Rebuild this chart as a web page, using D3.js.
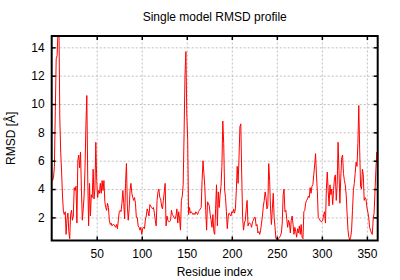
<!DOCTYPE html>
<html>
<head>
<meta charset="utf-8">
<script src="https://cdn.jsdelivr.net/npm/d3@7"></script>
<style>
  body { margin: 0; background: #fff; }
  svg { font-family: "Liberation Sans", Arial, sans-serif; }
</style>
</head>
<body>
<svg id="chart"></svg>
<script>
// RMSD per residue, residue index = position + 1
const rmsd = [
  4.6, 4.8, 5.6, 9.5, 13.2, 13.4, 15.2, 15.8, 9.0, 6.6,
  5.2, 3.5, 2.4, 2.2, 2.4, 0.8, 1.9, 2.3, 1.0, 0.5,
  2.2, 2.5, 1.8, 2.1, 4.1, 3.9, 4.2, 1.6, 6.0, 6.4,
  5.5, 6.6, 4.0, 1.8, 2.6, 3.5, 5.5, 8.5, 10.6, 4.8,
  1.4, 4.4, 2.1, 3.6, 3.4, 5.4, 3.3, 4.0, 7.3, 4.6,
  3.4, 3.9, 3.7, 4.4, 3.7, 4.6, 3.9, 4.6, 3.1, 2.7,
  2.5, 3.0, 2.7, 1.8, 1.5, 1.6, 1.4, 1.5, 1.5, 1.4,
  1.3, 1.5, 1.2, 1.8, 2.4, 2.5, 2.4, 3.0, 3.9, 3.0,
  1.9, 4.4, 5.8, 2.8, 1.8, 2.6, 3.9, 4.4, 3.7, 3.4,
  3.2, 3.4, 3.0, 2.0, 2.0, 1.4, 1.3, 1.1, 1.3, 0.8,
  1.2, 1.3, 1.2, 1.8, 2.1, 2.6, 2.4, 2.1, 2.9, 2.8,
  2.7, 2.6, 2.7, 2.3, 1.8, 1.4, 3.2, 3.8, 4.0, 3.4,
  3.3, 2.8, 2.6, 3.2, 3.8, 4.4, 1.4, 2.1, 1.8, 1.7,
  1.7, 1.8, 2.5, 2.2, 2.1, 2.0, 1.9, 2.1, 2.6, 1.6,
  2.4, 1.9, 1.1, 3.2, 3.5, 4.3, 7.9, 12.0, 13.7, 9.3,
  7.5, 2.2, 2.7, 2.3, 2.4, 2.3, 2.2, 2.3, 2.2, 2.4,
  2.3, 2.2, 2.4, 2.5, 2.6, 2.7, 4.6, 6.0, 5.1, 4.2,
  2.5, 1.1, 3.1, 3.0, 2.8, 2.2, 1.8, 1.3, 2.2, 1.0,
  0.8, 2.6, 4.3, 1.4, 3.8, 2.7, 3.6, 4.2, 5.6, 8.8,
  7.2, 4.0, 3.4, 2.4, 1.2, 2.1, 2.3, 2.2, 2.1, 2.4,
  2.3, 2.6, 2.3, 2.6, 3.9, 5.6, 4.4, 6.2, 8.4, 8.6,
  5.0, 2.0, 1.1, 1.6, 1.8, 2.6, 3.2, 1.4, 1.6, 1.6,
  1.5, 1.3, 1.7, 1.8, 2.0, 2.0, 1.4, 1.5, 0.9, 1.0,
  0.8, 1.1, 1.6, 2.1, 2.8, 3.2, 3.8, 3.4, 2.6, 2.8,
  5.8, 4.6, 2.6, 1.5, 2.6, 3.7, 2.0, 1.3, 0.5, 0.5,
  0.4, 0.5, 0.6, 0.7, 0.9, 1.6, 3.6, 4.0, 2.4, 2.5,
  1.9, 1.3, 1.8, 1.6, 0.9, 1.8, 2.1, 1.5, 0.8, 1.3,
  1.0, 0.6, 1.2, 0.9, 1.4, 0.8, 1.5, 0.6, 0.5, 2.4,
  2.5, 3.0, 3.2, 3.3, 3.5, 3.4, 4.1, 3.7, 4.2, 4.3,
  5.0, 5.7, 6.5, 5.0, 3.8, 2.0, 1.9, 1.8, 1.7, 1.7,
  1.8, 2.2, 2.4, 1.6, 4.0, 5.2, 3.9, 2.8, 4.3, 3.6,
  4.0, 2.9, 3.9, 4.8, 5.0, 3.2, 4.3, 7.3, 5.3, 3.0,
  4.8, 6.2, 6.4, 5.1, 4.6, 4.3, 3.6, 2.3, 1.1, 0.6,
  0.4, 0.6, 1.1, 2.5, 3.9, 4.4, 5.1, 5.9, 5.6, 7.2,
  9.9, 6.7, 4.2, 4.0, 5.4, 5.0, 3.2, 3.4, 3.3, 2.7,
  2.4, 2.0, 1.3, 1.1, 0.9, 0.8, 1.9, 2.3, 3.8, 5.4,
  6.6, 6.3
];

const xTicks = [50, 100, 150, 200, 250, 300, 350];
const yTicks = [2, 4, 6, 8, 10, 12, 14];
const xDomain = [0, 362];
const yDomain = [0.37, 14.8];

const width = 400;
const height = 280;
const margin = { top: 36, right: 22.3, bottom: 39.5, left: 51.7 };

const svg = d3.select("#chart")
    .attr("width", width)
    .attr("height", height);

const x = d3.scaleLinear()
    .domain(xDomain)
    .range([margin.left, width - margin.right]);

const y = d3.scaleLinear()
    .domain(yDomain)
    .range([height - margin.bottom, margin.top]);

const plotW = width - margin.left - margin.right;
const plotH = height - margin.top - margin.bottom;

// grid
const gridX = svg.append("g")
    .attr("transform", `translate(0,${height - margin.bottom})`)
    .call(d3.axisBottom(x).tickValues(xTicks).tickSize(-plotH).tickFormat(""));
const gridY = svg.append("g")
    .attr("transform", `translate(${margin.left},0)`)
    .call(d3.axisLeft(y).tickValues(yTicks).tickSize(-plotW).tickFormat(""));
[gridX, gridY].forEach(g => {
    g.select(".domain").remove();
    g.selectAll("line")
        .attr("stroke", "#b0b0b0")
        .attr("stroke-width", 0.8)
        .attr("stroke-dasharray", "2,2");
});

// line
svg.append("clipPath").attr("id", "clip")
    .append("rect")
    .attr("x", margin.left).attr("y", margin.top)
    .attr("width", plotW).attr("height", plotH);

const line = d3.line()
    .x((d, i) => x(i + 1))
    .y(d => y(d));

svg.append("path")
    .datum(rmsd)
    .attr("clip-path", "url(#clip)")
    .attr("fill", "none")
    .attr("stroke", "#ff0000")
    .attr("stroke-width", 1)
    .attr("stroke-linejoin", "round")
    .attr("d", line);

// axes with inward ticks (mirrored)
const axB = svg.append("g")
    .attr("transform", `translate(0,${height - margin.bottom})`)
    .call(d3.axisBottom(x).tickValues(xTicks).tickSize(-4).tickPadding(9));
const axT = svg.append("g")
    .attr("transform", `translate(0,${margin.top})`)
    .call(d3.axisTop(x).tickValues(xTicks).tickSize(-4).tickFormat(""));
const axL = svg.append("g")
    .attr("transform", `translate(${margin.left},0)`)
    .call(d3.axisLeft(y).tickValues(yTicks).tickSize(-4).tickPadding(7));
const axR = svg.append("g")
    .attr("transform", `translate(${width - margin.right},0)`)
    .call(d3.axisRight(y).tickValues(yTicks).tickSize(-4).tickFormat(""));
[axB, axT, axL, axR].forEach(g => {
    g.select(".domain").remove();
    g.selectAll("line").attr("stroke", "#000").attr("stroke-width", 1.5);
    g.selectAll("text").attr("font-size", 12).attr("fill", "#000")
        .attr("font-family", "Liberation Sans, Arial, sans-serif");
});

// border
svg.append("rect")
    .attr("x", margin.left).attr("y", margin.top)
    .attr("width", plotW).attr("height", plotH)
    .attr("fill", "none")
    .attr("stroke", "#000")
    .attr("stroke-width", 2);

// titles
svg.append("text")
    .attr("x", margin.left + plotW / 2)
    .attr("y", 21)
    .attr("text-anchor", "middle")
    .attr("font-size", 12)
    .text("Single model RMSD profile");

svg.append("text")
    .attr("x", margin.left + plotW / 2)
    .attr("y", 276)
    .attr("text-anchor", "middle")
    .attr("font-size", 12)
    .text("Residue index");

svg.append("text")
    .attr("transform", `translate(15,${margin.top + plotH / 2}) rotate(-90)`)
    .attr("text-anchor", "middle")
    .attr("font-size", 12)
    .text("RMSD [Å]");
</script>
</body>
</html>
